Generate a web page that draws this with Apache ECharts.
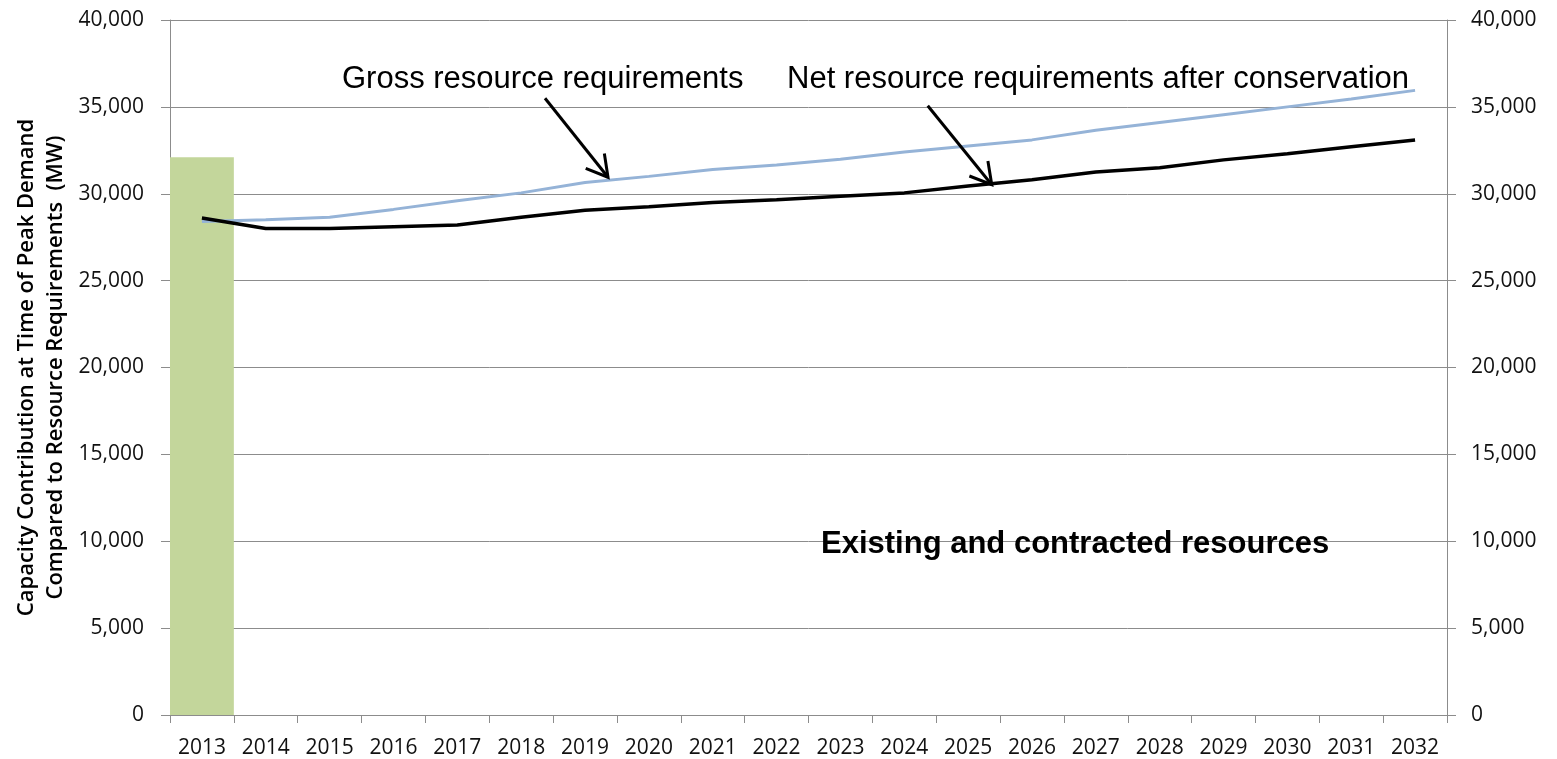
<!DOCTYPE html>
<html>
<head>
<meta charset="utf-8">
<script src="https://cdn.jsdelivr.net/npm/echarts@6/dist/echarts.min.js"></script>
<style>
  html, body { margin: 0; padding: 0; background: #ffffff; }
  #chart { width: 1557px; height: 759px; }
</style>
</head>
<body>
<div id="chart"></div>
<script>
// Planning years on the horizontal axis
const years = ['2013', '2014', '2015', '2016', '2017', '2018', '2019', '2020', '2021', '2022',
               '2023', '2024', '2025', '2026', '2027', '2028', '2029', '2030', '2031', '2032'];

// Existing and contracted resources (MW) – only the first year is shown as a bar
const existingResources = [32100, null, null, null, null, null, null, null, null, null,
                           null, null, null, null, null, null, null, null, null, null];

// Gross resource requirements (MW)
const grossRequirements = [28400, 28500, 28650, 29100, 29600, 30050, 30650, 31000, 31400, 31650,
                           31980, 32400, 32750, 33100, 33650, 34100, 34550, 35000, 35450, 35950];

// Net resource requirements after conservation (MW)
const netRequirements = [28600, 28000, 28000, 28100, 28200, 28650, 29050, 29250, 29500, 29650,
                         29850, 30050, 30450, 30800, 31250, 31500, 31950, 32300, 32700, 33100];

// Value axis range and step
const yMin = 0;
const yMax = 40000;
const yStep = 5000;

const axisTitle = 'Capacity Contribution at Time of Peak Demand\nCompared to Resource Requirements  (MW)';
const grossLabel = 'Gross resource requirements';
const netLabel = 'Net resource requirements after conservation';
const existingLabel = 'Existing and contracted resources';

const chart = echarts.init(document.getElementById('chart'), null, { renderer: 'canvas' });

const gridGray = '#8c8c8c';
const tickFont = { fontFamily: 'Open Sans', fontSize: 21, color: '#111111' };
const fmt = v => v.toLocaleString('en-US');

const valueAxis = (position, margin, showSplit) => ({
  type: 'value',
  position: position,
  min: yMin,
  max: yMax,
  interval: yStep,
  axisLine: { show: true, lineStyle: { color: gridGray, width: 1 } },
  axisTick: { show: true, inside: false, length: 9, lineStyle: { color: gridGray } },
  axisLabel: Object.assign({ margin: margin, formatter: fmt }, tickFont),
  splitLine: { show: showSplit, lineStyle: { color: gridGray, width: 1 } }
});

chart.setOption({
  animation: false,
  backgroundColor: '#ffffff',
  grid: { left: 170, right: 110, top: 20, bottom: 44, containLabel: false },
  xAxis: {
    type: 'category',
    data: years,
    boundaryGap: true,
    axisLine: { show: true, lineStyle: { color: gridGray, width: 1 } },
    axisTick: { show: true, alignWithLabel: false, length: 8, lineStyle: { color: gridGray } },
    axisLabel: Object.assign({ margin: 23, interval: 0 }, tickFont)
  },
  yAxis: [valueAxis('left', 26, true), valueAxis('right', 24, false)],
  series: [
    {
      name: existingLabel,
      type: 'bar',
      data: existingResources,
      barWidth: '100%',
      itemStyle: { color: '#c3d69b' },
      z: 1
    },
    {
      name: grossLabel,
      type: 'line',
      data: grossRequirements,
      symbol: 'none',
      lineStyle: { color: '#95b3d7', width: 3 },
      z: 3
    },
    {
      name: netLabel,
      type: 'line',
      data: netRequirements,
      symbol: 'none',
      lineStyle: { color: '#000000', width: 3.5 },
      z: 4
    }
  ]
});

// Pixel position of a point lying on a series line at a fractional category position
function pointOnLine(values, pos) {
  const i = Math.floor(pos);
  const t = pos - i;
  const a = chart.convertToPixel({ xAxisIndex: 0, yAxisIndex: 0 }, [i, values[i]]);
  const b = chart.convertToPixel({ xAxisIndex: 0, yAxisIndex: 0 }, [i + 1, values[i + 1]]);
  return [a[0] + (b[0] - a[0]) * t, a[1] + (b[1] - a[1]) * t];
}

// Open "V" arrow from a label down to the line it points at
function arrow(id, tip, dx, dy) {
  const start = [tip[0] + dx, tip[1] + dy];
  const ang = Math.atan2(tip[1] - start[1], tip[0] - start[0]);
  const headLen = 24, spread = 0.52;
  const h1 = [tip[0] - headLen * Math.cos(ang - spread), tip[1] - headLen * Math.sin(ang - spread)];
  const h2 = [tip[0] - headLen * Math.cos(ang + spread), tip[1] - headLen * Math.sin(ang + spread)];
  const stroke = { stroke: '#000000', lineWidth: 3, fill: null, lineCap: 'butt', lineJoin: 'miter' };
  return [
    { type: 'line', id: id + '-shaft', z: 10, shape: { x1: start[0], y1: start[1], x2: tip[0], y2: tip[1] }, style: stroke },
    { type: 'polyline', id: id + '-head', z: 10, shape: { points: [h1, tip, h2] }, style: stroke }
  ];
}

const grossTip = pointOnLine(grossRequirements, 6.36);
const netTip = pointOnLine(netRequirements, 12.37);
grossTip[1] -= 3;
netTip[1] += 1;

const grid = chart.getModel().getComponent('grid').coordinateSystem.getRect();
const plotMidY = grid.y + grid.height / 2;

chart.setOption({
  graphic: [
    {
      type: 'text', id: 'axis-title', x: 41, y: plotMidY, rotation: Math.PI / 2,
      style: {
        text: axisTitle, fill: '#000000', align: 'center', verticalAlign: 'middle',
        font: '600 22px "Open Sans"', lineHeight: 29
      }
    },
    {
      type: 'text', id: 'gross-label', x: 342, y: 79, z: 10,
      style: { text: grossLabel, fill: '#000000', align: 'left', verticalAlign: 'middle', font: '31px "Liberation Sans"' }
    },
    {
      type: 'text', id: 'net-label', x: 787, y: 79, z: 10,
      style: { text: netLabel, fill: '#000000', align: 'left', verticalAlign: 'middle', font: '31px "Liberation Sans"' }
    },
    {
      type: 'text', id: 'existing-label', x: 821, y: 544, z: 10,
      style: { text: existingLabel, fill: '#000000', align: 'left', verticalAlign: 'middle', font: 'bold 31px "Liberation Sans"' }
    }
  ].concat(arrow('gross-arrow', grossTip, -63, -79), arrow('net-arrow', netTip, -64, -79))
});
</script>
</body>
</html>
